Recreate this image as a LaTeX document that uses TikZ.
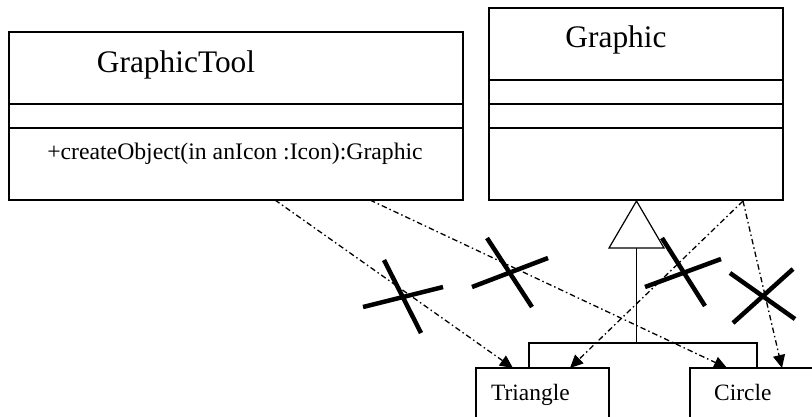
\documentclass[tikz,border=0pt]{standalone}
\usepackage{fontspec}
\setmainfont{Liberation Serif}
\usetikzlibrary{arrows.meta,calc}
\begin{document}
\begin{tikzpicture}[x=1bp,y=-1bp,
  classbox/.style={draw,line width=1.2bp,inner sep=0pt,outer sep=0pt},
  thinline/.style={line width=1.2bp},
  dep/.style={line width=1.3bp, dash pattern=on 5.5bp off 3bp on 1.5bp off 3bp,
    -{Triangle[length=13bp,width=12bp]}},
  crossline/.style={line width=4.5bp},
  titletext/.style={anchor=base,inner sep=0pt,font=\fontsize{31.5}{36}\selectfont},
  smalltext/.style={anchor=base west,inner sep=0pt,font=\fontsize{23.5}{28}\selectfont},
  optext/.style={anchor=base,inner sep=0pt,font=\fontsize{23.8}{28}\selectfont}]
\useasboundingbox (0,0) rectangle (812,416);
\clip (0,0) rectangle (812,416);
% GraphicTool class
\node[classbox, minimum width=454bp, minimum height=168bp] (gt) at (236,116) {};
\draw[thinline] (9,104) -- (463,104);
\draw[thinline] (9,128) -- (463,128);
\node[titletext] (gtt) at (176,72) {GraphicTool};
\node[optext] (gto) at (235,159) {+createObject(in anIcon :Icon):Graphic};
% Graphic class
\node[classbox, minimum width=294bp, minimum height=192bp] (gr) at (636,104) {};
\draw[thinline] (489,80) -- (783,80);
\draw[thinline] (489,104) -- (783,104);
\draw[thinline] (489,128) -- (783,128);
\node[titletext] (grt) at (616,47) {Graphic};
% subclasses
\node[classbox, minimum width=133bp, minimum height=60bp, anchor=north west] (tri) at (476,368) {};
\node[classbox, minimum width=140bp, minimum height=60bp, anchor=north west] (cir) at (690,368) {};
\node[smalltext] (trit) at (491,400) {Triangle};
\node[smalltext] (cirt) at (714,400) {Circle};
% generalization
\coordinate (apex) at (636.5,201);
\coordinate (bl) at (609,248);
\coordinate (br) at (664,248);
\coordinate (stemtop) at (636.5,248);
\coordinate (join) at (636.5,343);
\coordinate (barl) at (529,343);
\coordinate (barr) at (757,343);
\coordinate (legl) at (529,368);
\coordinate (legr) at (757,368);
\draw[thinline] (stemtop) -- (join);
\draw[thinline] (legl) -- (barl) -- (barr) -- (legr);
\draw[thinline, fill=white] (apex) -- (br) -- (bl) -- cycle;
% dependencies
\coordinate (s1) at (275,200);
\coordinate (s2) at (370,200);
\coordinate (s3) at (743,201);
\coordinate (e1) at (513,368);
\coordinate (e2) at (727,368);
\coordinate (e3) at (570,368);
\coordinate (e4) at (782,368);
\draw[dep] (s1) -- (e1);
\draw[dep] (s2) -- (e2);
\draw[dep] (s3) -- (e3);
\draw[dep] (s3) -- (e4);
% crosses
\draw[crossline] (384,260) -- (421,333);
\draw[crossline] (363,307) -- (443,287);
\draw[crossline] (487,238) -- (532,307);
\draw[crossline] (472,287) -- (548,258);
\draw[crossline] (662,238) -- (705,306);
\draw[crossline] (645,287) -- (721,259);
\draw[crossline] (730,273) -- (795,319);
\draw[crossline] (733,323) -- (793,269);
\end{tikzpicture}
\end{document}
